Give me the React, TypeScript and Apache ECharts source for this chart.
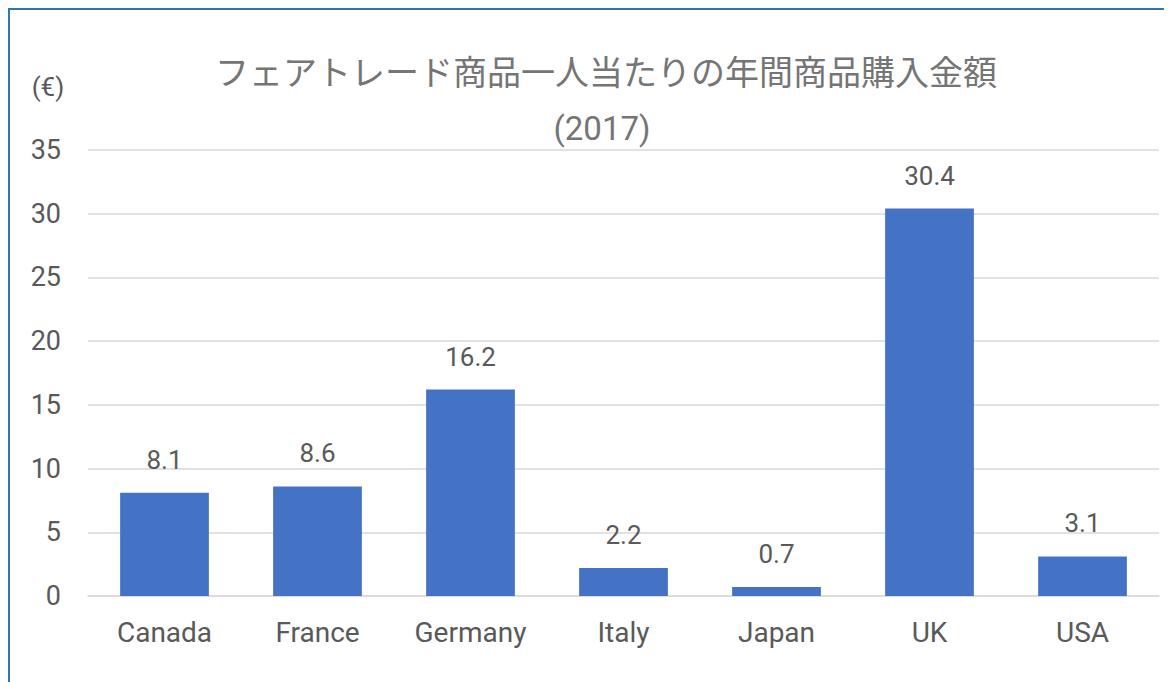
import React, { useEffect, useRef } from "react";
import * as echarts from "echarts";

const categories = ["Canada", "France", "Germany", "Italy", "Japan", "UK", "USA"];
const values = [8.1, 8.6, 16.2, 2.2, 0.7, 30.4, 3.1];
const titleLine1 = "フェアトレード商品一人当たりの年間商品購入金額";
const titleLine2 = "(2017)";
const unitLabel = "(€)";

export default function App() {
  const ref = useRef<HTMLDivElement>(null);
  useEffect(() => {
    if (!ref.current) return;
    const chart = echarts.init(ref.current, null, { renderer: "svg" });
    const font = "Roboto, 'Noto Sans CJK JP', sans-serif";
    chart.setOption({
      animation: false,
      backgroundColor: "#ffffff",
      textStyle: { fontFamily: font },
      grid: { left: 78, right: 13, top: 140, bottom: 86, containLabel: false },
      graphic: [
        {
          type: "text",
          x: 596,
          y: 60,
          style: {
            text: titleLine1,
            textAlign: "center",
            textVerticalAlign: "middle",
            fontSize: 34,
            fontFamily: "'Noto Sans CJK JP', sans-serif",
            fill: "#757575",
          },
        },
        {
          type: "text",
          x: 592,
          y: 118,
          style: {
            text: titleLine2,
            textAlign: "center",
            textVerticalAlign: "middle",
            fontSize: 33,
            fontFamily: font,
            fill: "#757575",
          },
        },
        {
          type: "text",
          x: 38,
          y: 77,
          style: {
            text: unitLabel,
            textAlign: "center",
            textVerticalAlign: "middle",
            fontSize: 26,
            fontFamily: font,
            fill: "#595959",
          },
        },
      ],
      xAxis: {
        type: "category",
        data: categories,
        axisLine: { show: true, lineStyle: { color: "#d9d9d9", width: 1.5 } },
        axisTick: { show: false },
        axisLabel: { color: "#595959", fontSize: 28, margin: 22, fontFamily: font },
      },
      yAxis: {
        type: "value",
        min: 0,
        max: 35,
        interval: 5,
        axisLine: { show: false },
        axisTick: { show: false },
        splitLine: { lineStyle: { color: "#d9d9d9", width: 1.5 } },
        axisLabel: { color: "#595959", fontSize: 27, margin: 27, fontFamily: font },
      },
      series: [
        {
          type: "bar",
          data: values,
          barWidth: "58%",
          itemStyle: { color: "#4472c4" },
          label: {
            show: true,
            position: "top",
            distance: 20,
            color: "#595959",
            fontSize: 26,
            fontFamily: font,
          },
        },
      ],
    });
    return () => chart.dispose();
  }, []);
  return (
    <div
      ref={ref}
      style={{
        width: 1162,
        height: 672,
        borderTop: "2px solid #2e75b6",
        borderLeft: "2px solid #2e75b6",
      }}
    />
  );
}
